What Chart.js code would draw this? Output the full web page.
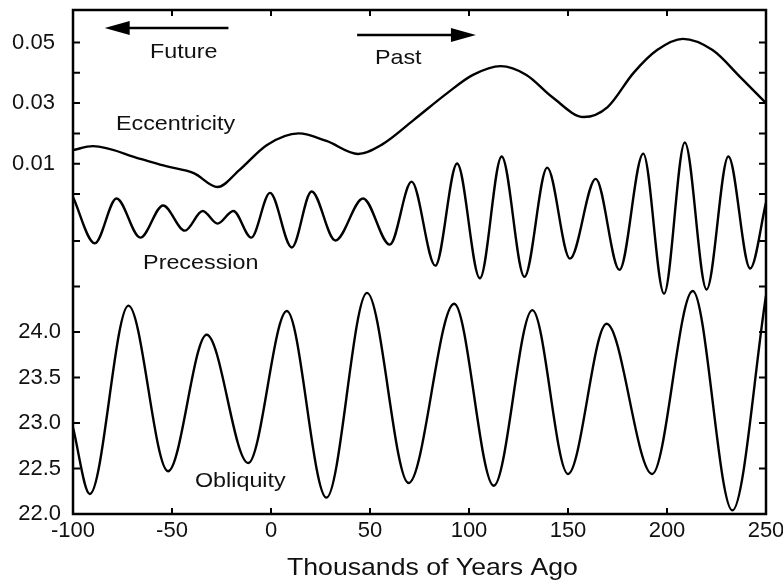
<!DOCTYPE html>
<html>
<head>
<meta charset="utf-8">
<script src="https://cdn.jsdelivr.net/npm/chart.js@4.4.1/dist/chart.umd.min.js"></script>
<style>
  html, body { margin: 0; padding: 0; background: #fff; }
  canvas { display: block; }
</style>
</head>
<body>
<canvas id="myChart" width="783" height="581"></canvas>
<script>
// thousands of years ago (negative = future)
const eccYears = [-100, -90, -66, -53, -39, -27, -16, -2, 14, 28, 44, 56, 72, 89, 102, 116, 129, 142, 158, 170, 183, 195, 208, 223, 237, 250]
const eccValues = [0.0145, 0.0158, 0.0116, 0.0092, 0.0069, 0.0023, 0.0079, 0.0162, 0.0200, 0.0175, 0.0132, 0.0163, 0.0244, 0.0333, 0.0393, 0.0422, 0.0393, 0.0320, 0.0254, 0.0287, 0.0399, 0.0475, 0.0512, 0.0475, 0.0386, 0.0300]

const precYears = [-100, -89, -78, -66, -54.5, -43.5, -34.5, -27, -19, -10, -0.5, 10.5, 20.5, 32.5, 46.5, 60, 71, 83, 94, 105.5, 116.5, 128, 139.5, 151, 164, 176, 188, 198.5, 209, 220, 231, 242, 250]
const precValues = [0.015, -0.018, 0.014, -0.014, 0.009, -0.009, 0.005, -0.004, 0.005, -0.014, 0.018, -0.021, 0.019, -0.016, 0.014, -0.019, 0.026, -0.034, 0.039, -0.043, 0.044, -0.042, 0.036, -0.029, 0.028, -0.037, 0.046, -0.054, 0.054, -0.051, 0.044, -0.036, 0.011]

const oblYears = [-100, -91.5, -72, -52, -32.5, -11.5, 8, 28, 48.5, 69.5, 92.5, 112.5, 132, 150, 169.5, 192.5, 213, 233, 250]
const oblValues = [22.95, 22.22, 24.29, 22.47, 23.97, 22.56, 24.23, 22.18, 24.43, 22.34, 24.31, 22.31, 24.24, 22.44, 24.09, 22.44, 24.45, 22.04, 24.40]

const eccTicks = [0, 0.01, 0.02, 0.03, 0.04, 0.05]
const eccTickLabels = ['0.01', '0.03', '0.05']
const oblTicks = [22.0, 22.5, 23.0, 23.5, 24.0, 24.5, 25.0]
const oblTickLabels = ['22.0', '22.5', '23.0', '23.5', '24.0']

const FONT = '"Liberation Sans", Arial, Helvetica, sans-serif'

// the three curves share the plot height, each with its own vertical range
const ECC_MIN = -0.10561, ECC_MAX = 0.06073
const OBL_MIN = 22, OBL_MAX = 27.538
const eccToObl = e => OBL_MIN + (e - ECC_MIN) / (ECC_MAX - ECC_MIN) * (OBL_MAX - OBL_MIN)

const toPts = (xs, ys) => xs.map((x, i) => ({ x: x, y: ys[i] }))

const line = (data, axis) => ({
  data: data,
  yAxisID: axis,
  borderColor: '#000',
  borderWidth: 2.4,
  pointRadius: 0,
  fill: false,
  cubicInterpolationMode: 'monotone'
})

// frame, inward ticks and the text labels
const extras = {
  id: 'extras',
  afterDraw: chart => {
    const ctx = chart.ctx
    const a = chart.chartArea
    const sx = chart.scales.x, sE = chart.scales.yE, sO = chart.scales.yO, sP = chart.scales.yP
    ctx.save()
    ctx.strokeStyle = '#000'
    ctx.lineWidth = 2.5
    ctx.strokeRect(a.left, a.top, a.right - a.left, a.bottom - a.top)
    ctx.lineWidth = 2
    ctx.beginPath()
    sx.ticks.forEach(t => {
      const px = sx.getPixelForValue(t.value)
      ctx.moveTo(px, a.bottom); ctx.lineTo(px, a.bottom - 6)
      ctx.moveTo(px, a.top); ctx.lineTo(px, a.top + 6)
    })
    sO.ticks.forEach(t => {
      const py = sO.getPixelForValue(t.value)
      ctx.moveTo(a.left, py); ctx.lineTo(a.left + 7, py)
      ctx.moveTo(a.right, py); ctx.lineTo(a.right - 7, py)
    })
    ctx.stroke()

    // arrows
    ctx.lineWidth = 2.5
    const arrow = (x0, x1, yv) => {
      const p0 = sx.getPixelForValue(x0), p1 = sx.getPixelForValue(x1)
      const py = sE.getPixelForValue(yv)
      const dir = Math.sign(p1 - p0)
      ctx.beginPath()
      ctx.moveTo(p0, py); ctx.lineTo(p1 - dir * 20, py)
      ctx.stroke()
      ctx.beginPath()
      ctx.moveTo(p1, py)
      ctx.lineTo(p1 - dir * 25, py - 7)
      ctx.lineTo(p1 - dir * 25, py + 7)
      ctx.closePath()
      ctx.fillStyle = '#000'
      ctx.fill()
    }
    arrow(-21.5, -84, 0.0548)
    arrow(43.5, 103.5, 0.0525)

    ctx.fillStyle = '#111'
    ctx.font = '21px ' + FONT
    ctx.textBaseline = 'alphabetic'
    ctx.textAlign = 'left'
    const stretched = (s, px, py) => {
      ctx.save()
      ctx.translate(px, py)
      ctx.scale(1.11, 1)
      ctx.fillText(s, 0, 0)
      ctx.restore()
    }
    const text = (s, xv, yv, scale) => stretched(s, sx.getPixelForValue(xv), scale.getPixelForValue(yv))
    text('Future', -61.1, 0.0449, sE)
    text('Past', 52.5, 0.0429, sE)
    text('Eccentricity', -78.3, 0.0211, sE)
    text('Precession', -64.6, -0.0364, sP)
    text('Obliquity', -38.4, 22.30, sO)

    // x axis title
    ctx.font = '24px ' + FONT
    stretched('Thousands of Years Ago', a.left + 214, a.bottom + 61)
    ctx.restore()
  }
}

const config = {
  type: 'line',
  data: {
    datasets: [
      line(toPts(eccYears, eccValues), 'yE'),
      line(toPts(precYears, precValues), 'yP'),
      line(toPts(oblYears, oblValues), 'yO')
    ]
  },
  options: {
    responsive: false,
    animation: false,
    layout: { padding: { left: 0, right: 17, top: 10, bottom: 0 } },
    plugins: { legend: { display: false }, tooltip: { enabled: false } },
    scales: {
      x: {
        type: 'linear',
        min: -100,
        max: 250,
        grid: { display: false, drawTicks: false },
        border: { display: false },
        ticks: { stepSize: 50, padding: 4, color: '#111', font: { family: FONT, size: 22 } },
        afterFit: s => { s.height = 67; s.paddingLeft = 0; s.paddingRight = 0 }
      },
      yE: {
        type: 'linear',
        display: false,
        min: ECC_MIN,
        max: ECC_MAX
      },
      yO: {
        type: 'linear',
        position: 'left',
        min: OBL_MIN,
        max: OBL_MAX,
        grid: { display: false, drawTicks: false },
        border: { display: false },
        // obliquity ticks below, eccentricity ticks above on the same left axis
        afterBuildTicks: s => {
          const lo = oblTicks.map(v => ({ value: v, text: oblTickLabels.includes(v.toFixed(1)) ? v.toFixed(1) : '' }))
          const hi = eccTicks.map(e => ({ value: eccToObl(e), text: eccTickLabels.includes(e.toFixed(2)) ? e.toFixed(2) + ' ' : '' }))
          s.ticks = lo.concat(hi).sort((p, q) => p.value - q.value)
        },
        ticks: {
          padding: 12,
          autoSkip: false,
          color: '#111',
          font: { family: FONT, size: 22 },
          callback: (v, i, ticks) => ticks[i].text
        },
        afterFit: s => { s.width = 73; s.paddingTop = 0; s.paddingBottom = 0 }
      },
      yP: {
        type: 'linear',
        display: false,
        min: -0.2114,
        max: 0.1486
      }
    }
  },
  plugins: [extras]
}

new Chart(document.getElementById('myChart'), config)
</script>
</body>
</html>
